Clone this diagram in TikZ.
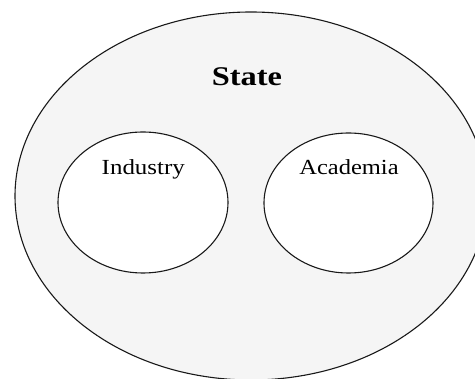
\documentclass[tikz,border=0pt]{standalone}
\usepackage{fontspec}
\setmainfont{Liberation Serif}
\usepackage{graphicx}
\usetikzlibrary{shapes.geometric}
\tikzset{
  region/.style={ellipse, draw=black!90, line width=1.1pt, inner sep=0pt},
  outerregion/.style={region, fill=black!4},
  innerregion/.style={region, fill=white},
  lbl/.style={anchor=base, inner sep=0pt, text=black}
}
\begin{document}
\begin{tikzpicture}[x=1pt,y=-1pt]
\useasboundingbox (0,0) rectangle (475,379);
\clip (0,0) rectangle (475,379);
\node[outerregion, minimum width=472pt, minimum height=368pt] (state) at (251,196) {};
\node[innerregion, minimum width=170pt, minimum height=141pt] (industry) at (143,202.5) {};
\node[innerregion, minimum width=169pt, minimum height=140pt] (academia) at (348.5,203) {};
\node[lbl, font=\fontsize{27}{30}\selectfont\bfseries] (statelbl) at (247,86) {\scalebox{1.2}[1]{State}};
\node[lbl, font=\fontsize{21.5}{24}\selectfont] (industrylbl) at (143.3,175) {\scalebox{1.16}[1]{Industry}};
\node[lbl, font=\fontsize{21.5}{24}\selectfont] (academialbl) at (349,175) {\scalebox{1.14}[1]{Academia}};
\end{tikzpicture}
\end{document}
